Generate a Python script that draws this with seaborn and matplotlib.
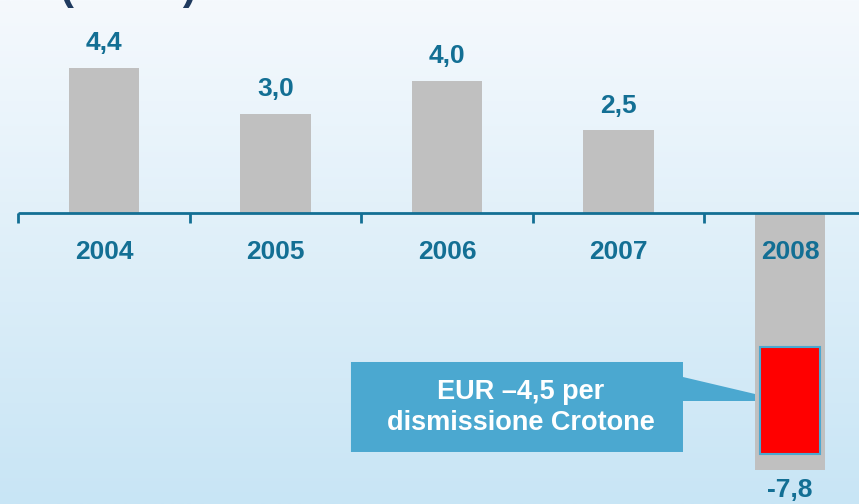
import numpy as np
import pandas as pd
import matplotlib.pyplot as plt
from matplotlib.colors import LinearSegmentedColormap
from matplotlib.patches import Polygon
import seaborn as sns

# Data
years = ["2004", "2005", "2006", "2007", "2008"]
values = [4.4, 3.0, 4.0, 2.5, -7.8]
value_labels = ["4,4", "3,0", "4,0", "2,5", "-7,8"]
crotone_top = -4.06
crotone_bottom = -7.3
callout_text = "EUR \u20134,5 per\ndismissione Crotone"
unit_text = "(\u20ac mln)"

df = pd.DataFrame({"year": years, "value": values})

sns.set_theme(style="white")
plt.rcParams["font.family"] = ["Liberation Sans", "DejaVu Sans"]

TEAL = "#136f94"
GRAY = "#c0c0c0"
BOX = "#4ba8d0"

fig = plt.figure(figsize=(8.59, 5.04), dpi=100)

# background gradient
bg = fig.add_axes([0, 0, 1, 1], zorder=0)
cmap = LinearSegmentedColormap.from_list("bg", ["#f5f9fd", "#c8e5f5"])
bg.imshow(np.linspace(0, 1, 256).reshape(-1, 1), aspect="auto", cmap=cmap,
          extent=[0, 1, 0, 1])
bg.axis("off")

ax = fig.add_axes([0, 0, 1, 1], zorder=1)
ax.patch.set_alpha(0)
sns.barplot(data=df, x="year", y="value", color=GRAY, width=0.41,
            saturation=1, linewidth=0, edgecolor="none", ax=ax, zorder=2)

# scale: 171.5 px per category, 33 px per unit, zero line at 213 px
ax.set_xlim(-104 / 171.5, (859 - 104) / 171.5)
ax.set_ylim(-(504 - 213) / 33, 213 / 33)
ax.axis("off")

# red portion of 2008 bar
ax.bar(4, crotone_bottom - crotone_top, bottom=crotone_top, width=0.355,
       color="#ff0000", edgecolor=BOX, linewidth=1.5, zorder=3)

# axis line with ticks
ax.axhline(0, xmin=19 / 859, xmax=1, color=TEAL, lw=2, zorder=4)
for i in range(len(years)):
    ax.plot([i - 0.5, i - 0.5], [0, -0.3], color=TEAL, lw=2, zorder=4,
            solid_capstyle="butt")

# labels
for i, (v, lab) in enumerate(zip(values, value_labels)):
    if v >= 0:
        ax.text(i, v + 0.75, lab, ha="center", va="center", fontsize=19,
                fontweight="bold", color=TEAL, zorder=5)
    else:
        ax.text(i, v - 0.6, lab, ha="center", va="center", fontsize=19,
                fontweight="bold", color=TEAL, zorder=5)
    ax.text(i, -1.17, years[i], ha="center", va="center", fontsize=19,
            fontweight="bold", color=TEAL, zorder=5)

# callout
pts = [(1.440, -4.515), (3.376, -4.515), (3.376, -4.97), (3.796, -5.485),
       (3.796, -5.697), (3.376, -5.697), (3.376, -7.242), (1.440, -7.242)]
ax.add_patch(Polygon(pts, closed=True, facecolor=BOX, edgecolor="none",
                     zorder=5))
ax.text(2.43, -5.88, callout_text, ha="center", va="center", fontsize=19.5,
        fontweight="bold", color="white", linespacing=1.25, zorder=6)

# cut-off unit title
fig.text(60 / 859, 1 + 1 / 504, unit_text, ha="left", va="baseline",
         fontsize=30, fontweight="bold", color="#1f3a5f")

fig.savefig("out.png", dpi=100)
